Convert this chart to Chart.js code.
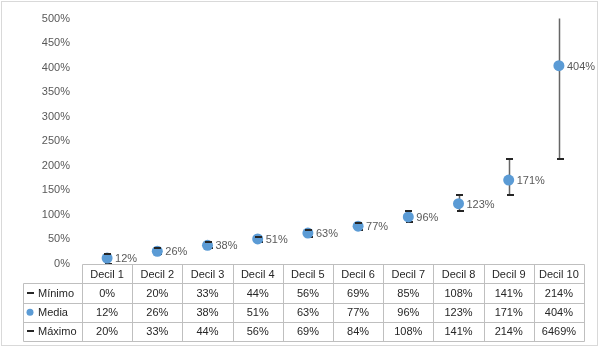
<!DOCTYPE html>
<html><head><meta charset="utf-8">
<script src="https://cdn.jsdelivr.net/npm/chart.js@4"></script>
<style>html,body{margin:0;padding:0;background:#fff}#wrap{width:600px;height:349px;position:relative}</style>
</head><body><div id="wrap"><canvas id="c" width="600" height="349"></canvas></div>
<script>
const categories = ['Decil 1','Decil 2','Decil 3','Decil 4','Decil 5','Decil 6','Decil 7','Decil 8','Decil 9','Decil 10'];
const minimo = [0, 20, 33, 44, 56, 69, 85, 108, 141, 214];
const media  = [12, 26, 38, 51, 63, 77, 96, 123, 171, 404];
const maximo = [20, 33, 44, 56, 69, 84, 108, 141, 214, 6469];
const rowLabels = ['Mínimo', 'Media', 'Máximo'];
const yMin = 0, yMax = 500, yStep = 50;

const FONT = '"Liberation Sans", Arial, sans-serif';
const fmt = v => v + '%';
const BLUE = '#5b9bd5';
const DASH = '#262626';

function dash(ctx, px, py) {
  ctx.fillRect(Math.round(px) - 3, Math.round(py) - 1, 7, 2);
}

const overlay = {
  id: 'overlay',
  beforeDraw(chart) {
    const ctx = chart.ctx;
    ctx.save();
    ctx.fillStyle = '#fff';
    ctx.fillRect(0, 0, chart.width, chart.height);
    ctx.strokeStyle = '#d9d9d9';
    ctx.lineWidth = 1;
    ctx.strokeRect(1.5, 1.5, 596, 344);
    ctx.restore();
  },
  beforeDatasetsDraw(chart) {
    const {ctx, chartArea: a, scales: {x, y}} = chart;
    ctx.save();
    ctx.beginPath();
    ctx.rect(a.left, a.top - 1, a.right - a.left, a.bottom - a.top + 2);
    ctx.clip();
    ctx.strokeStyle = '#666666';
    ctx.lineWidth = 1.5;
    ctx.fillStyle = DASH;
    categories.forEach((c, i) => {
      const px = Math.round(x.getPixelForValue(i)) + 0.5;
      const yt = y.getPixelForValue(Math.min(maximo[i], y.max));
      const yb = y.getPixelForValue(minimo[i]);
      ctx.beginPath();
      ctx.moveTo(px, yt); ctx.lineTo(px, yb);
      ctx.stroke();
      dash(ctx, px, yb);
    });
    ctx.restore();
  },
  afterDatasetsDraw(chart) {
    const {ctx, chartArea: a, scales: {x, y}} = chart;
    ctx.save();
    ctx.fillStyle = DASH;
    categories.forEach((c, i) => {
      if (maximo[i] <= y.max) dash(ctx, x.getPixelForValue(i), y.getPixelForValue(maximo[i]));
    });
    ctx.font = '11px ' + FONT;
    ctx.fillStyle = '#595959';
    ctx.textBaseline = 'middle';
    ctx.textAlign = 'left';
    media.forEach((v, i) => {
      ctx.fillText(fmt(v), x.getPixelForValue(i) + 8, y.getPixelForValue(v) + 1);
    });
    ctx.restore();
  },
  afterDraw(chart) {
    const {ctx, chartArea: a, scales: {x}} = chart;
    const colW = x.getPixelForValue(1) - x.getPixelForValue(0);
    const left = x.getPixelForValue(0) - colW / 2;
    const right = left + colW * categories.length;
    const top = a.bottom;
    const rh = 19.25;
    const labelLeft = 23;
    const bottom = top + rh * 4;
    const h = v => Math.round(v) + 0.5;
    ctx.save();
    ctx.strokeStyle = '#bfbfbf';
    ctx.lineWidth = 1;
    ctx.beginPath();
    ctx.moveTo(h(left), h(top)); ctx.lineTo(h(right), h(top));
    for (let r = 1; r <= 4; r++) {
      ctx.moveTo(h(labelLeft), h(top + rh * r)); ctx.lineTo(h(right), h(top + rh * r));
    }
    ctx.moveTo(h(labelLeft), h(top + rh)); ctx.lineTo(h(labelLeft), h(bottom));
    for (let c = 0; c <= categories.length; c++) {
      const cx = h(left + colW * c);
      ctx.moveTo(cx, h(top)); ctx.lineTo(cx, h(bottom));
    }
    ctx.stroke();
    ctx.font = '11px ' + FONT;
    ctx.fillStyle = '#262626';
    ctx.textBaseline = 'middle';
    ctx.textAlign = 'center';
    categories.forEach((c, i) => {
      const cx = x.getPixelForValue(i);
      ctx.fillText(c, cx, top + rh * 0.5 + 1);
      ctx.fillText(fmt(minimo[i]), cx, top + rh * 1.5 + 1);
      ctx.fillText(fmt(media[i]), cx, top + rh * 2.5 + 1);
      ctx.fillText(fmt(maximo[i]), cx, top + rh * 3.5 + 1);
    });
    ctx.textAlign = 'left';
    rowLabels.forEach((lab, r) => {
      const cy = top + rh * (r + 1.5);
      ctx.fillStyle = '#262626';
      ctx.fillText(lab, 38, cy + 1);
      if (r === 1) {
        ctx.beginPath();
        ctx.fillStyle = BLUE;
        ctx.arc(30, cy, 3.5, 0, Math.PI * 2);
        ctx.fill();
      } else {
        ctx.fillStyle = '#262626';
        ctx.fillRect(27, Math.round(cy) - 1, 7, 2);
      }
    });
    ctx.restore();
  }
};

new Chart(document.getElementById('c'), {
  type: 'line',
  data: {
    labels: categories,
    datasets: [{
      label: 'Media',
      data: media,
      showLine: false,
      pointRadius: 5.5,
      pointHoverRadius: 5.5,
      pointBorderWidth: 0,
      pointBackgroundColor: BLUE,
      pointBorderColor: BLUE,
      borderColor: BLUE,
      backgroundColor: BLUE
    }]
  },
  options: {
    responsive: false,
    animation: false,
    events: [],
    layout: { padding: { top: 16, left: 0, right: 16, bottom: 85 } },
    plugins: { legend: { display: false }, tooltip: { enabled: false } },
    scales: {
      x: { display: false, offset: true },
      y: {
        min: yMin, max: yMax,
        grid: { display: false, drawTicks: false },
        border: { display: false },
        ticks: { stepSize: yStep, padding: 12, color: '#595959', font: { family: FONT, size: 11 }, callback: v => fmt(v) },
        afterFit: s => { s.width = 82; }
      }
    }
  },
  plugins: [overlay]
});
</script>
</body></html>
